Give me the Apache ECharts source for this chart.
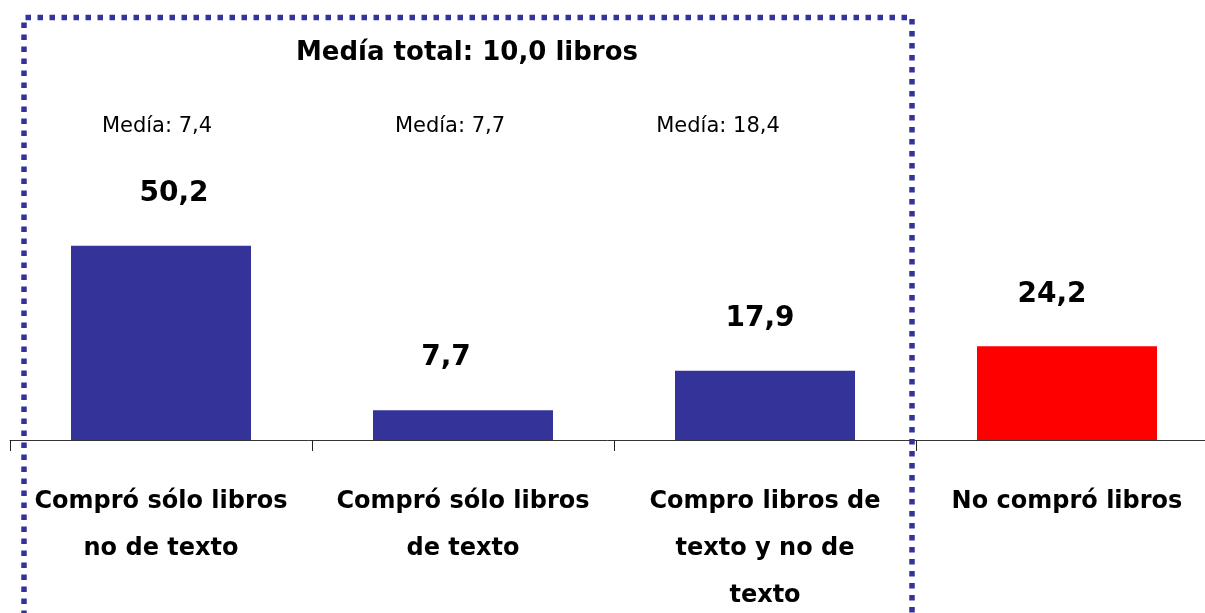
<!DOCTYPE html>
<html>
<head>
    <meta charset="utf-8">
    <title>Media de libros</title>
    <script src="https://cdn.jsdelivr.net/npm/echarts@6/dist/echarts.min.js"></script>
    <style>
        html, body { margin: 0; padding: 0; background: #fff; }
    </style>
</head>
<body>

<div id="main" style="width: 1205px;height:613px;"></div>

<script type="text/javascript">

    // datos
    var categorias = [
        'Compró sólo libros\nno de texto',
        'Compró sólo libros\nde texto',
        'Compro libros de\ntexto y no de\ntexto',
        'No compró libros'
    ];
    var valores = [50.2, 7.7, 17.9, 24.2];
    var medias = ['Medía: 7,4', 'Medía: 7,7', 'Medía: 18,4'];
    var mediaTotal = 'Medía total: 10,0 libros';

    var fuente = '"Comic Sans MS", "DejaVu Sans", sans-serif';
    var azul = '#333399';
    var rojo = '#ff0000';

    // desplazamiento horizontal de cada etiqueta de valor
    var desplaz = [13, -17, -5, -15];

    var myChart = echarts.init(document.getElementById('main'));

    var datos = valores.map(function (v, i) {
        return {
            value: v,
            itemStyle: { color: i === 3 ? rojo : azul },
            label: { offset: [desplaz[i], 0] }
        };
    });

    var mediaX = [157, 450, 718];
    var textos = medias.map(function (t, i) {
        return {
            type: 'text',
            x: mediaX[i],
            y: 127,
            z: 10,
            style: {
                text: t,
                fontFamily: fuente,
                fontSize: 21,
                fill: '#000',
                align: 'center',
                verticalAlign: 'middle'
            }
        };
    });
    textos.push({
        type: 'text',
        x: 467,
        y: 53,
        z: 10,
        style: {
            text: mediaTotal,
            fontFamily: fuente,
            fontSize: 26,
            fontWeight: 'bold',
            fill: '#000',
            align: 'center',
            verticalAlign: 'middle'
        }
    });
    // recuadro punteado
    textos.push({
        type: 'polyline',
        z: 20,
        shape: { points: [[24, 640], [24, 17.5], [912, 17.5], [912, 640]] },
        style: {
            stroke: azul,
            lineWidth: 5.5,
            lineDash: [5.5, 6.5],
            fill: null
        }
    });

    var option = {
        animation: false,
        backgroundColor: '#fff',
        grid: {
            left: 10, width: 1208, top: 53, height: 387,
            containLabel: false,
            outerBoundsMode: 'none'
        },
        xAxis: {
            type: 'category',
            data: categorias,
            axisLine: { show: true, lineStyle: { color: '#333', width: 1 } },
            axisTick: { show: true, length: 11, lineStyle: { color: '#222' } },
            axisLabel: {
                interval: 0,
                margin: 38,
                fontFamily: fuente,
                fontSize: 24,
                fontWeight: 'bold',
                color: '#000',
                lineHeight: 47,
                align: 'center',
                hideOverlap: false
            }
        },
        yAxis: {
            type: 'value',
            min: 0,
            max: 100,
            show: false,
            splitLine: { show: false }
        },
        series: [{
            type: 'bar',
            barWidth: 180,
            data: datos,
            label: {
                show: true,
                position: 'top',
                distance: 38,
                fontFamily: fuente,
                fontSize: 28,
                fontWeight: 'bold',
                color: '#000',
                formatter: function (p) {
                    return p.value.toFixed(1).replace('.', ',');
                }
            }
        }],
        graphic: textos
    };

    myChart.setOption(option);

</script>
</body>
</html>
